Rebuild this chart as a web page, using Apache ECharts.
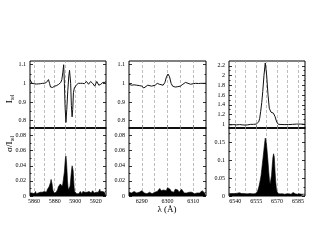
<!DOCTYPE html>
<html><head><meta charset="utf-8">
<script src="https://cdn.jsdelivr.net/npm/echarts@6/dist/echarts.min.js"></script>
<style>html,body{margin:0;padding:0;background:#fff}#c{width:317px;height:245px}</style>
</head><body><div id="c"></div>
<script>
// ---------- data ----------
const p1XLabels = [5860, 5880, 5900, 5920];
const p1XMinor  = [5870, 5890, 5910];
const p1XGrid   = [5860, 5870, 5880, 5890, 5900, 5910, 5920];
const p2XLabels = [6290, 6300, 6310];
const p2XMinor  = [6295, 6305];
const p2XGrid   = [6290, 6295, 6300, 6305, 6310];
const p3XLabels = [6540, 6555, 6570, 6585];
const p3XMinor  = [6547.5, 6562.5, 6577.5];
const p3XGrid   = [6540, 6547.5, 6555, 6562.5, 6570, 6577.5, 6585];

const topLabels12 = [0.8, 0.9, 1, 1.1];
const topMinor12  = [0.85, 0.95, 1.05];
const botLabels12 = [0, 0.02, 0.04, 0.06, 0.08];
const botMinor12  = [0.01, 0.03, 0.05, 0.07];
const topLabels3  = [1, 1.2, 1.4, 1.6, 1.8, 2, 2.2];
const topMinor3   = [1.1, 1.3, 1.5, 1.7, 1.9, 2.1];
const botLabels3  = [0, 0.05, 0.1, 0.15];
const botMinor3   = [0.025, 0.075, 0.125, 0.175];

// telluric spectrum I_tel : [wavelength, value]
const p1Flux = [
 [5856,1.02],[5857,1.01],[5858,1.0],[5859,1.002],[5860,0.998],[5861,1.0],[5862,0.996],[5863,0.998],
 [5864,0.997],[5865,1.0],[5866,0.998],[5867,0.999],[5868,1.0],[5869,1.005],[5870,1.0],[5871,0.998],
 [5872,1.005],[5873,1.015],[5874,1.02],[5875,1.0],[5876,0.98],[5877,0.975],[5878,0.978],[5879,0.98],
 [5880,0.985],[5881,0.99],[5882,0.988],[5883,0.992],[5884,0.995],[5885,1.0],[5886,1.005],[5887,1.02],
 [5888,1.06],[5888.8,1.10],[5889.5,1.0],[5890.2,0.87],[5891,0.79],[5891.8,0.86],[5892.8,0.96],
 [5893.8,1.04],[5894.5,1.07],[5895,1.075],[5895.6,1.0],[5896.3,0.88],[5897,0.82],[5897.6,0.86],
 [5898.3,0.95],[5899.2,0.975],[5900,0.985],[5901,0.99],[5902,0.995],[5903,1.0],[5904,0.997],
 [5905,1.0],[5906,0.995],[5907,1.0],[5908,1.002],[5909,0.998],[5910,1.005],[5911,1.01],[5912,1.0],
 [5913,0.995],[5914,1.005],[5915,1.01],[5916,1.015],[5917,1.0],[5918,0.99],[5919,0.985],[5920,0.995],
 [5921,1.01],[5922,1.0],[5923,0.99],[5924,0.985],[5925,0.995],[5926,1.0],[5927,1.005],[5928,0.995],
 [5929,1.005],[5930,1.01]
];
const p2Flux = [
 [6285,0.995],[6286,0.99],[6287,0.992],[6288,0.99],[6289,0.988],[6290,0.985],[6290.8,0.975],
 [6291.5,0.978],[6292.3,0.99],[6293,0.995],[6293.8,0.985],[6294.5,0.978],[6295.2,0.99],[6296,1.0],
 [6296.8,0.995],[6297.5,0.985],[6298.3,0.99],[6299,1.005],[6299.6,1.035],[6300.2,1.05],[6300.8,1.035],
 [6301.4,1.0],[6302,0.985],[6303,0.98],[6304,0.982],[6305,0.985],[6306,0.995],[6307,1.005],[6308,1.0],
 [6309,0.995],[6310,0.998],[6311,1.0],[6312,0.999],[6313,1.0],[6314,1.0],[6315,1.0]
];
const p3Flux = [
 [6535.5,0.995],[6537,0.99],[6539,0.995],[6541,0.99],[6543,0.995],[6545,0.99],[6547,0.985],
 [6549,0.99],[6551,1.0],[6553,1.0],[6555,1.005],[6556,1.02],[6556.8,1.05],[6557.5,1.12],
 [6558.2,1.26],[6559,1.45],[6559.7,1.67],[6560.6,2.01],[6561.5,2.26],[6562.5,2.01],[6563.5,1.6],
 [6564.4,1.33],[6565.6,1.25],[6567.3,1.23],[6568.5,1.16],[6569.7,1.05],[6570.9,1.0],[6572,0.99],
 [6575,0.995],[6578,0.995],[6581,1.0],[6584,1.005],[6587,1.005],[6590,1.0]
];

// sigma / I_tel, sampled on a regular wavelength grid
const p1SigmaStart = 5856, p1SigmaStep = 0.5;
const p1Sigma = [
 .004,.006,.003,.005,.004,.003,.005,.004,.003,.005,
 .004,.006,.003,.004,.005,.003,.004,.005,.004,.003,
 .005,.004,.006,.004,.005,.007,.005,.004,.006,.005,
 .004,.006,.005,.006,.009,.011,.010,.012,.010,.014,
 .018,.022,.021,.016,.010,.007,.005,.004,.005,.004,
 .006,.005,.007,.006,.009,.012,.010,.014,.012,.016,
 .014,.018,.015,.013,.017,.022,.024,.032,.042,.050,
 .053,.046,.034,.020,.012,.008,.007,.009,.013,.020,
 .028,.035,.040,.041,.034,.022,.011,.006,.005,.004,
 .005,.003,.004,.005,.004,.003,.005,.004,.006,.004,
 .005,.003,.005,.006,.008,.005,.004,.005,.006,.005,
 .007,.005,.004,.005,.004,.006,.006,.004,.005,.004,
 .006,.005,.007,.009,.006,.004,.005,.004,.006,.005,
 .004,.005,.003,.005,.006,.007,.009,.006,.004,.005,
 .004,.006,.007,.005,.004,.005,.004,.005,.006
];
const p2SigmaStart = 6285, p2SigmaStep = 0.5;
const p2Sigma = [
 .005,.006,.004,.005,.006,.005,.004,.006,.005,.007,
 .007,.005,.004,.005,.003,.004,.005,.004,.003,.004,
 .005,.004,.006,.008,.010,.007,.006,.008,.006,.007,
 .011,.012,.009,.006,.007,.005,.009,.011,.008,.005,
 .006,.009,.007,.004,.005,.004,.003,.005,.004,.005,
 .004,.003,.005,.004,.005,.004,.006,.007,.005,.004,
 .005
];
const p3SigmaStart = 6535.5, p3SigmaStep = 0.5;
const p3Sigma = [
 .006,.008,.005,.007,.006,.009,.007,.006,.008,.007,
 .009,.011,.008,.012,.010,.009,.011,.008,.007,.009,
 .006,.007,.005,.008,.006,.007,.005,.006,.008,.006,
 .007,.005,.008,.006,.009,.007,.006,.008,.007,.008,
 .010,.014,.020,.027,.036,.046,.057,.075,.092,.110,
 .128,.146,.162,.155,.140,.118,.094,.068,.045,.033,
 .031,.058,.085,.108,.118,.108,.070,.040,.020,.012,
 .008,.006,.007,.005,.006,.008,.005,.006,.004,.006,
 .005,.007,.005,.006,.004,.005,.006,.005,.007,.005,
 .006,.008,.010,.007,.009,.006,.005,.007,.005,.006,
 .004,.006,.005,.007,.005,.006,.004,.005,.006,.005
];

// ---------- build ----------
function gridded(start, step, vals) { return vals.map((v, i) => [start + i * step, v]); }

const SERIF = 'Liberation Serif';
const panels = [
  { left: 30, width: 76, x: [5856, 5930], xLab: p1XLabels, xMin: p1XMinor, xGrid: p1XGrid,
    yt: [0.76, 1.12], ytLab: topLabels12, ytMin: topMinor12,
    yb: [0, 0.09], ybLab: botLabels12, ybMin: botMinor12,
    flux: p1Flux, sigma: gridded(p1SigmaStart, p1SigmaStep, p1Sigma) },
  { left: 129, width: 77, x: [6285, 6315], xLab: p2XLabels, xMin: p2XMinor, xGrid: p2XGrid,
    yt: [0.76, 1.12], ytLab: topLabels12, ytMin: topMinor12,
    yb: [0, 0.09], ybLab: botLabels12, ybMin: botMinor12,
    flux: p2Flux, sigma: gridded(p2SigmaStart, p2SigmaStep, p2Sigma) },
  { left: 229, width: 76, x: [6535.5, 6590], xLab: p3XLabels, xMin: p3XMinor, xGrid: p3XGrid,
    yt: [0.925, 2.3], ytLab: topLabels3, ytMin: topMinor3,
    yb: [0, 0.19], ybLab: botLabels3, ybMin: botMinor3,
    flux: p3Flux, sigma: gridded(p3SigmaStart, p3SigmaStep, p3Sigma) }
];

const grid = [], xAxis = [], yAxis = [], series = [];
const lbl = { fontFamily: SERIF, fontSize: 6, color: '#000', formatter: v => String(v) };

panels.forEach(p => {
  ['top', 'bot'].forEach(part => {
    const g = grid.length;
    const isTop = part === 'top';
    grid.push({ left: p.left, width: p.width, top: isTop ? 61 : 128, height: isTop ? 67 : 68,
      show: true, borderColor: '#000', borderWidth: 1, backgroundColor: 'transparent' });
    const xi = xAxis.length;
    xAxis.push({ gridIndex: g, type: 'value', min: p.x[0], max: p.x[1], position: 'bottom',
      axisLine: { show: isTop, onZero: false, lineStyle: { color: '#000', width: 1.6 } },
      axisTick: { show: true, inside: true, length: 3, customValues: p.xLab, lineStyle: { color: '#000', width: 0.8 } },
      axisLabel: { show: !isTop, customValues: p.xLab, margin: 2, ...lbl },
      splitLine: { show: false } });
    xAxis.push({ gridIndex: g, type: 'value', min: p.x[0], max: p.x[1], position: 'bottom',
      axisLine: { show: false }, axisLabel: { show: false }, splitLine: { show: false },
      axisTick: { show: true, inside: true, length: 1.5, customValues: p.xMin, lineStyle: { color: '#000', width: 0.8 } } });
    const yr = isTop ? p.yt : p.yb, yl = isTop ? p.ytLab : p.ybLab, ym = isTop ? p.ytMin : p.ybMin;
    const yi = yAxis.length;
    ['left', 'right'].forEach(side => {
      yAxis.push({ gridIndex: g, type: 'value', min: yr[0], max: yr[1], position: side,
        axisLine: { show: false }, splitLine: { show: false },
        axisTick: { show: true, inside: true, length: 3, customValues: yl, lineStyle: { color: '#000', width: 0.8 } },
        axisLabel: { show: side === 'left', customValues: yl, margin: 4, ...lbl } });
      yAxis.push({ gridIndex: g, type: 'value', min: yr[0], max: yr[1], position: side,
        axisLine: { show: false }, splitLine: { show: false }, axisLabel: { show: false },
        axisTick: { show: true, inside: true, length: 1.5, customValues: ym, lineStyle: { color: '#000', width: 0.8 } } });
    });
    const data = isTop ? p.flux : p.sigma;
    // dashed vertical grid lines
    series.push({ type: 'line', xAxisIndex: xi, yAxisIndex: yi, data: data, z: 1, silent: true,
      symbol: 'none', lineStyle: { opacity: 0 },
      markLine: { silent: true, z: 1, symbol: ['none', 'none'], label: { show: false },
        lineStyle: { type: [3, 2], color: '#a0a0a0', width: 0.7 },
        data: p.xGrid.map(v => ({ xAxis: v })) } });
    if (isTop) {
      series.push({ type: 'line', xAxisIndex: xi, yAxisIndex: yi, data: data, z: 5,
        symbol: 'none', lineStyle: { color: '#111', width: 1 } });
    } else {
      series.push({ type: 'line', xAxisIndex: xi, yAxisIndex: yi, data: data, z: 5,
        symbol: 'none', lineStyle: { color: '#000', width: 0.6 },
        areaStyle: { color: '#000', opacity: 1 } });
    }
  });
});

const sub = {
  a: { fontSize: 9, fontFamily: SERIF, fill: '#000', verticalAlign: 'bottom', lineHeight: 10 },
  b: { fontSize: 5.5, fontFamily: SERIF, fill: '#000', verticalAlign: 'bottom', lineHeight: 10, padding: [0, 0, -2, 0] }
};

const chart = echarts.init(document.getElementById('c'), null, { renderer: 'canvas' });
chart.setOption({
  animation: false,
  backgroundColor: '#fff',
  grid, xAxis, yAxis, series,
  graphic: [
    { type: 'text', x: 9, y: 99, rotation: Math.PI / 2,
      style: { text: '{a|I}{b|tel}', rich: sub, align: 'center', verticalAlign: 'middle' } },
    { type: 'text', x: 9, y: 144, rotation: Math.PI / 2,
      style: { text: '{a|σ/I}{b|tel}', rich: sub, align: 'center', verticalAlign: 'middle' } },
    { type: 'text', x: 167, y: 210,
      style: { text: 'λ (Å)', fontSize: 9, fontFamily: SERIF, fill: '#000', align: 'center', verticalAlign: 'middle' } }
  ]
});
</script></body></html>
